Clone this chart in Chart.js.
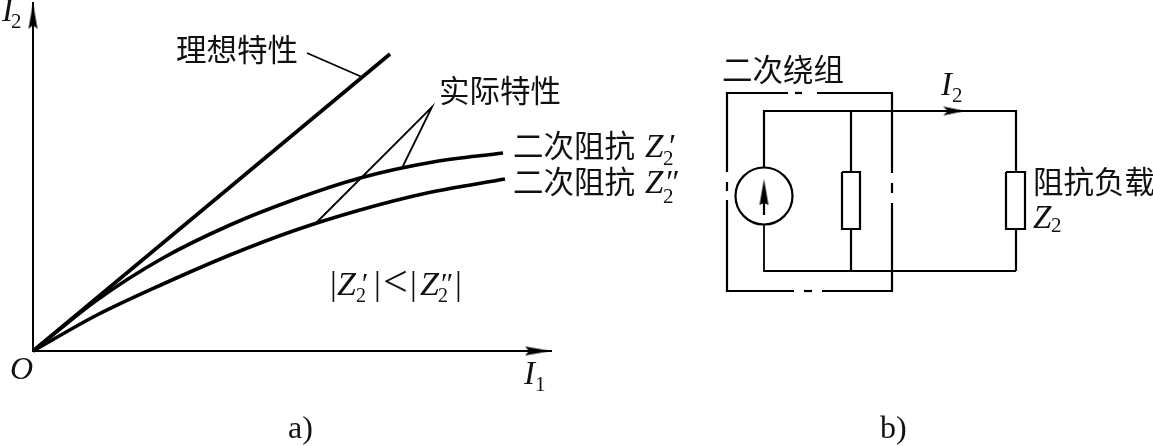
<!DOCTYPE html>
<html><head><meta charset="utf-8">
<style>html,body{margin:0;padding:0;background:#fff;width:1153px;height:446px;overflow:hidden}
canvas{position:absolute;top:0}</style>
<script src="https://cdn.jsdelivr.net/npm/chart.js@4"></script></head>
<body><canvas id="a" width="700" height="446" style="left:0"></canvas><canvas id="b" width="1153" height="446" style="left:0"></canvas>
<script>
// Panel a) values, I1 and I2 in axis units measured from O
const idealI1 = [0, 357];
const idealI2 = [0, 297];
const upperI1 = [0, 64, 130, 197, 260, 327, 400, 470];
const upperI2 = [0, 51, 93, 126, 151, 173, 189, 198];
const lowerI1 = [0, 64, 130, 197, 260, 327, 394, 472];
const lowerI2 = [0, 36, 67, 96, 120, 141, 158, 172];
const leaderIdeal = [[274, 298], [329, 274]];
const leaderActual = [[282, 127], [399, 244], [369, 183]];
// Panel b) schematic paths
const windingPaths = [
  [[788,93],[727,93],[727,172]], [[795,93],[802,93]], [[817,93],[892,93],[892,173]],
  [[727,182],[727,191]], [[892,183],[892,193]],
  [[727,200],[727,291],[794,291]], [[804,291],[812,291]], [[822,291],[892,291],[892,203]]
];
const circuitPaths = [
  [[764,168],[764,111],[1016,111],[1016,172]], [[851,111],[851,172]],
  [[842,172],[860,172],[860,229],[842,229],[842,172]],
  [[1006,172],[1025,172],[1025,229],[1006,229],[1006,172]],
  [[851,229],[851,271]], [[1016,229],[1016,271]], [[764,215],[764,190]]
];
const bottomWire = [[764,225],[764,271],[1016,271]];
const sourceCentre = [[764,196]];
const currentTip = [[965,111]];
const sourceTip = [[764,179]];
const xTip = [[518,0]];
const yTip = [[0,348]];

const F = '"Liberation Serif",serif', C = '"Noto Sans CJK SC",sans-serif';
const IT = s => `italic ${s}px ${F}`, RM = s => `${s}px ${F}`, CJ = `30.5px ${C}`;
const labelsA = [
  ['I',2,21,IT(33)],['2',11,28,RM(21)],
  ['O',10,379,IT(32)],['I',524,384,IT(33)],['1',535,391,RM(21)],
  ['理想特性',176,61,CJ],['实际特性',439,102,CJ],
  ['二次阻抗',513,157,CJ],['Z',645,157,IT(33)],['2',663,165,RM(21)],['′',667,157,IT(33)],
  ['二次阻抗',513,193,CJ],['Z',645,193,IT(33)],['2',663,203,RM(21)],['″',664,193,IT(33)],
  ['|',330,295,RM(34)],['Z',337,295,IT(34)],['2',356,302,RM(20)],['′',360,293,IT(30)],['|',374,295,RM(34)],
  ['<',383,296,RM(44)],['|',410,295,RM(34)],['Z',420,295,IT(34)],['2',438,302,RM(20)],['″',439,293,IT(30)],['|',455,295,RM(34)],
  ['a)',288,438,RM(32)]
];
const labelsB = [
  ['二次绕组',722,81,CJ],['I',941,95,IT(33)],['2',952,102,RM(21)],
  ['阻抗负载',1033,193,CJ],['Z',1033,228,IT(33)],['2',1051,232,RM(21)],['b)',880,438,RM(32)]
];
const textPlugin = { id:'text', afterDraw(c, _, o){ const x=c.ctx; x.save(); x.fillStyle='#111'; x.textBaseline='alphabetic';
  for(const [t,px,py,f] of o.items){ x.font=f; x.fillText(t,px,py);} x.restore(); } };

function arrow(len, wid, notch){ const k=document.createElement('canvas'); k.width=len*2+2; k.height=wid+2;
  const g=k.getContext('2d'), cx=k.width/2, cy=k.height/2; g.fillStyle='#000'; g.beginPath();
  g.moveTo(cx,cy); g.lineTo(cx-len,cy-wid/2); g.lineTo(cx-len+notch,cy); g.lineTo(cx-len,cy+wid/2); g.closePath(); g.fill(); return k; }
const pairs = p => p.map(([x,y])=>({x,y}));
const line = (p,w,extra={}) => Object.assign({data:pairs(p),showLine:true,borderColor:'#000',borderWidth:w,pointRadius:0,clip:false,borderCapStyle:'butt',borderJoinStyle:'miter'},extra);
const tip = (p,img,rot) => ({data:pairs(p),showLine:false,pointStyle:img,pointRotation:rot,pointRadius:1,clip:false});
const zip = (a,b) => a.map((v,i)=>[v,b[i]]);
const base = {responsive:false,animation:false,devicePixelRatio:1,plugins:{legend:{display:false},tooltip:{enabled:false}}};
const axis = (min,max,show) => ({type:'linear',min,max,ticks:{display:false},grid:{display:false,drawTicks:false},border:{display:show,color:'#000',width:2},title:{display:false}});

new Chart(document.getElementById('a'),{type:'scatter',plugins:[textPlugin],data:{datasets:[
  line(zip(idealI1,idealI2),3.6),
  line(zip(upperI1,upperI2),3.6,{cubicInterpolationMode:'monotone'}),
  line(zip(lowerI1,lowerI2),3.6,{cubicInterpolationMode:'monotone'}),
  line(leaderIdeal,1.8), line(leaderActual,1.8),
  tip(xTip,arrow(26,9,4),0), tip(yTip,arrow(26,9,4),-90)
]},options:{...base,layout:{autoPadding:false,padding:{left:33,right:149,top:3,bottom:95}},
  scales:{x:axis(0,518,true),y:axis(0,348,true)},plugins:{...base.plugins,text:{items:labelsA}}}});

new Chart(document.getElementById('b'),{type:'scatter',plugins:[textPlugin],data:{datasets:[
  ...windingPaths.map(p=>line(p,2.2)),
  ...circuitPaths.map(p=>line(p,2.2)),
  line(bottomWire,1.8),
  {data:pairs(sourceCentre),showLine:false,pointStyle:'circle',pointRadius:28.5,pointBorderWidth:2.2,pointBorderColor:'#000',pointBackgroundColor:'rgba(0,0,0,0)',clip:false},
  tip(currentTip,arrow(22,9,5),0), tip(sourceTip,arrow(26,9,2),-90)
]},options:{...base,layout:{autoPadding:false,padding:0},
  scales:{x:axis(0,1153,false),y:{...axis(0,446,false),reverse:true}},plugins:{...base.plugins,text:{items:labelsB}}}});
</script></body></html>
